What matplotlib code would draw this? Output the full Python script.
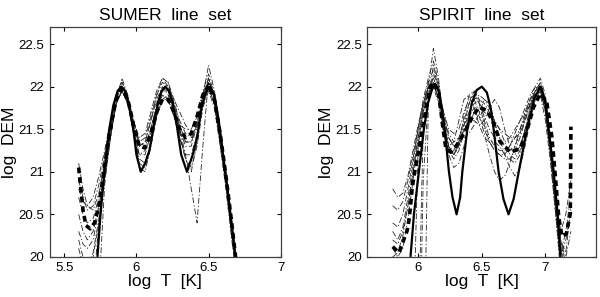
import matplotlib
matplotlib.use("Agg")
import matplotlib.pyplot as plt
import numpy as np

plt.rcParams['font.family'] = ['Liberation Sans', 'DejaVu Sans']

# ---------------- SUMER line set (left panel) ----------------
sumer_true_x = [5.73, 5.75, 5.78, 5.81, 5.84, 5.87, 5.895, 5.92, 5.95, 5.98, 6.00, 6.03,
                6.06, 6.09, 6.12, 6.15, 6.175, 6.20, 6.225, 6.25, 6.28, 6.31, 6.35,
                6.39, 6.42, 6.45, 6.48, 6.51, 6.54, 6.57, 6.60, 6.63, 6.66, 6.685]
sumer_true_y = [20.0, 20.47, 21.04, 21.48, 21.78, 21.95, 22.0, 21.95, 21.78, 21.48, 21.2, 21.0,
                21.1, 21.25, 21.54, 21.82, 21.95, 22.0, 21.95, 21.82, 21.54, 21.2, 21.0,
                21.2, 21.4, 21.74, 21.93, 22.0, 21.9, 21.6, 21.2, 20.8, 20.38, 20.0]

sumer_mean_x = [5.60, 5.615, 5.63, 5.65, 5.68, 5.71, 5.74, 5.77, 5.80, 5.83, 5.86, 5.90,
                5.94, 5.98, 6.02, 6.06, 6.10, 6.14, 6.18, 6.22, 6.26, 6.30, 6.34, 6.38,
                6.42, 6.46, 6.50, 6.54, 6.58, 6.62, 6.66, 6.70]
sumer_mean_y = [21.05, 20.8, 20.55, 20.37, 20.33, 20.4, 20.6, 20.95, 21.3, 21.6, 21.85, 21.98,
                21.85, 21.55, 21.3, 21.28, 21.45, 21.7, 21.85, 21.85, 21.7, 21.5, 21.4, 21.45,
                21.65, 21.9, 22.02, 21.85, 21.45, 20.95, 20.4, 19.8]

sumer_x = [5.60, 5.63, 5.66, 5.70, 5.74, 5.78, 5.82, 5.86, 5.90, 5.94, 5.98, 6.02, 6.06,
           6.10, 6.14, 6.18, 6.22, 6.26, 6.30, 6.34, 6.38, 6.42, 6.46, 6.50, 6.54, 6.58,
           6.62, 6.66, 6.70]
sumer_runs = [
    [21.1, 20.8, 20.6, 20.55, 20.75, 21.1, 21.5, 21.9, 22.05, 21.9, 21.55, 21.3, 21.35, 21.6, 21.9, 22.05, 22.0, 21.8, 21.5, 21.2, 20.8, 20.4, 21.3, 22.1, 21.9, 21.5, 21.0, 20.4, 19.8],
    [20.9, 20.7, 20.55, 20.6, 20.85, 21.2, 21.55, 21.9, 22.0, 21.85, 21.5, 21.2, 21.2, 21.45, 21.75, 21.95, 21.95, 21.75, 21.5, 21.3, 21.3, 21.55, 21.9, 22.1, 21.85, 21.4, 20.9, 20.35, 19.8],
    [20.7, 20.5, 20.4, 20.45, 20.7, 21.05, 21.45, 21.8, 21.95, 21.8, 21.45, 21.15, 21.1, 21.35, 21.65, 21.85, 21.85, 21.65, 21.45, 21.35, 21.35, 21.6, 21.9, 22.0, 21.8, 21.35, 20.85, 20.3, 19.8],
    [20.5, 20.3, 20.2, 20.3, 20.6, 21.0, 21.45, 21.85, 22.0, 21.85, 21.45, 21.05, 21.0, 21.3, 21.65, 21.95, 22.05, 21.85, 21.55, 21.35, 21.35, 21.55, 21.85, 22.05, 21.85, 21.4, 20.9, 20.35, 19.8],
    [20.3, 20.15, 20.1, 20.2, 20.55, 20.95, 21.4, 21.8, 21.95, 21.8, 21.5, 21.3, 21.35, 21.6, 21.85, 22.0, 21.9, 21.7, 21.55, 21.5, 21.5, 21.65, 21.95, 22.15, 21.9, 21.45, 20.95, 20.4, 19.8],
    [20.1, 19.9, 19.9, 20.05, 20.45, 20.9, 21.4, 21.85, 22.1, 21.9, 21.55, 21.35, 21.4, 21.65, 21.9, 22.1, 22.05, 21.8, 21.6, 21.45, 21.4, 21.55, 21.9, 22.25, 21.95, 21.5, 21.0, 20.45, 19.85],
    [20.0, 19.8, 19.5, 19.6, 20.4, 20.95, 21.45, 21.85, 22.0, 21.85, 21.5, 21.1, 21.05, 21.3, 21.65, 21.85, 21.9, 21.75, 21.45, 21.15, 21.05, 21.3, 21.75, 21.95, 21.75, 21.3, 20.8, 20.2, 19.7],
    [19.0, 19.0, 19.0, 19.0, 19.6, 20.85, 21.4, 21.8, 21.95, 21.8, 21.45, 21.2, 21.25, 21.5, 21.75, 21.9, 21.85, 21.65, 21.4, 21.2, 21.2, 21.45, 21.8, 21.98, 21.8, 21.4, 20.9, 20.3, 19.7],
    [20.2, 20.0, 19.9, 20.0, 20.4, 20.95, 21.45, 21.8, 21.95, 21.85, 21.6, 21.4, 21.45, 21.7, 21.95, 22.1, 22.0, 21.85, 21.7, 21.55, 21.45, 21.5, 21.8, 22.0, 21.8, 21.35, 20.85, 20.25, 19.7],
    [20.8, 20.65, 20.6, 20.7, 20.95, 21.25, 21.6, 21.9, 22.05, 21.9, 21.6, 21.35, 21.3, 21.5, 21.8, 22.0, 21.95, 21.7, 21.4, 21.15, 21.0, 21.35, 21.85, 22.1, 21.85, 21.4, 20.9, 20.35, 19.75],
]

# ---------------- SPIRIT line set (right panel) ----------------
spirit_true_x = [5.94, 5.967, 6.006, 6.045, 6.08, 6.11, 6.132, 6.16, 6.185, 6.208, 6.242, 6.27,
                 6.302, 6.33, 6.347, 6.386, 6.42, 6.46, 6.50, 6.54, 6.57, 6.593, 6.632, 6.67,
                 6.71, 6.75, 6.79, 6.855, 6.91, 6.96, 6.995, 7.025, 7.065, 7.096, 7.117]
spirit_true_y = [20.0, 20.5, 21.0, 21.5, 21.82, 21.97, 22.03, 21.95, 21.75, 21.5, 21.0, 20.7,
                 20.5, 20.7, 21.0, 21.5, 21.8, 21.96, 22.0, 21.93, 21.75, 21.5, 21.0, 20.68,
                 20.5, 20.68, 21.0, 21.5, 21.85, 22.0, 21.85, 21.5, 21.0, 20.5, 20.0]

spirit_mean_x = [5.80, 5.85, 5.914, 5.928, 5.94, 5.954, 5.98, 6.02, 6.045, 6.07, 6.098, 6.124,
                 6.163, 6.19, 6.216, 6.255, 6.294, 6.36, 6.425, 6.478, 6.54, 6.593, 6.645,
                 6.724, 6.80, 6.855, 6.907, 6.96, 7.012, 7.05, 7.078, 7.104, 7.13, 7.164,
                 7.195, 7.20]
spirit_mean_y = [20.12, 20.05, 20.31, 20.43, 20.59, 20.82, 21.06, 21.37, 21.6, 21.8, 22.0, 22.05,
                 21.92, 21.57, 21.29, 21.23, 21.29, 21.45, 21.64, 21.76, 21.72, 21.57, 21.35,
                 21.23, 21.27, 21.49, 21.76, 21.92, 21.8, 21.41, 20.94, 20.47, 20.24, 20.27,
                 20.51, 21.53]

spirit_x = [5.80, 5.84, 5.88, 5.92, 5.96, 6.00, 6.04, 6.08, 6.12, 6.16, 6.20, 6.24, 6.28,
            6.32, 6.36, 6.40, 6.44, 6.48, 6.52, 6.56, 6.60, 6.64, 6.68, 6.72, 6.76, 6.80,
            6.84, 6.88, 6.92, 6.96, 7.00, 7.04, 7.08, 7.12, 7.16, 7.20]
spirit_runs = [
    [20.8, 20.7, 20.75, 20.95, 21.25, 21.55, 21.8, 22.0, 22.1, 21.95, 21.7, 21.5, 21.45, 21.5, 21.7, 21.85, 21.9, 21.8, 21.65, 21.5, 21.4, 21.35, 21.35, 21.4, 21.5, 21.6, 21.7, 21.85, 21.95, 22.0, 21.8, 21.3, 20.7, 20.3, 20.5, 20.9],
    [20.6, 20.55, 20.65, 20.9, 21.2, 21.5, 21.8, 22.05, 22.2, 22.0, 21.6, 21.3, 21.2, 21.3, 21.55, 21.8, 21.95, 21.85, 21.6, 21.4, 21.3, 21.25, 21.25, 21.3, 21.4, 21.5, 21.65, 21.8, 21.9, 21.95, 21.7, 21.2, 20.6, 20.15, 20.0, 20.3],
    [20.2, 20.15, 20.3, 20.6, 21.0, 21.4, 21.75, 22.0, 22.45, 22.1, 21.6, 21.25, 21.15, 21.25, 21.45, 21.65, 21.75, 21.75, 21.7, 21.65, 21.6, 21.5, 21.35, 21.2, 21.15, 21.25, 21.5, 21.75, 21.95, 22.05, 21.85, 21.35, 20.7, 20.1, 19.8, 19.6],
    [18.0, 18.0, 18.0, 18.0, 18.0, 19.0, 21.5, 21.9, 22.0, 21.9, 21.55, 21.3, 21.25, 21.4, 21.6, 21.8, 21.85, 21.7, 21.5, 21.35, 21.25, 21.2, 21.2, 21.3, 21.45, 21.6, 21.75, 21.9, 22.0, 21.95, 21.7, 21.15, 20.5, 19.9, 19.5, 19.2],
    [18.0, 18.0, 18.0, 18.0, 18.0, 18.0, 18.0, 21.8, 22.15, 22.0, 21.7, 21.45, 21.35, 21.4, 21.55, 21.7, 21.8, 21.85, 21.8, 21.7, 21.55, 21.4, 21.3, 21.25, 21.3, 21.45, 21.65, 21.85, 22.0, 22.1, 21.9, 21.4, 20.75, 20.2, 19.9, 19.7],
    [18.0, 18.0, 18.0, 18.0, 19.0, 21.3, 21.7, 21.95, 22.05, 21.85, 21.5, 21.2, 21.05, 21.1, 21.3, 21.55, 21.7, 21.65, 21.45, 21.2, 21.0, 20.9, 20.95, 21.1, 21.3, 21.5, 21.7, 21.85, 21.9, 21.9, 21.6, 21.1, 20.5, 19.8, 19.5, 19.3],
    [20.4, 20.35, 20.5, 20.8, 21.15, 21.5, 21.8, 22.0, 22.05, 21.85, 21.5, 21.3, 21.35, 21.6, 21.85, 21.9, 21.75, 21.55, 21.4, 21.35, 21.35, 21.3, 21.2, 21.15, 21.1, 21.2, 21.45, 21.75, 21.95, 22.0, 21.75, 21.25, 20.6, 20.05, 20.3, 20.75],
    [20.0, 20.05, 20.25, 20.6, 21.0, 21.4, 21.75, 22.0, 22.1, 21.95, 21.65, 21.4, 21.3, 21.35, 21.4, 21.45, 21.55, 21.7, 21.85, 21.8, 21.6, 21.4, 21.2, 21.05, 20.95, 21.05, 21.3, 21.6, 21.85, 21.95, 21.75, 21.25, 20.6, 20.0, 19.7, 19.5],
    [20.3, 20.2, 20.35, 20.7, 21.1, 21.5, 21.85, 22.1, 22.3, 22.05, 21.65, 21.4, 21.3, 21.35, 21.5, 21.6, 21.6, 21.55, 21.6, 21.75, 21.85, 21.75, 21.5, 21.3, 21.2, 21.3, 21.5, 21.7, 21.9, 22.05, 21.85, 21.35, 20.75, 20.2, 20.05, 20.6],
    [18.0, 18.0, 18.0, 18.0, 18.0, 18.0, 20.9, 21.85, 22.25, 22.0, 21.6, 21.3, 21.2, 21.35, 21.65, 21.9, 21.95, 21.8, 21.55, 21.35, 21.25, 21.2, 21.15, 21.15, 21.25, 21.4, 21.6, 21.8, 21.95, 22.0, 21.8, 21.3, 20.65, 20.1, 19.8, 19.6],
    [20.1, 20.0, 20.1, 20.45, 20.9, 21.35, 21.7, 21.95, 22.0, 21.8, 21.45, 21.25, 21.2, 21.3, 21.5, 21.7, 21.85, 21.9, 21.85, 21.75, 21.6, 21.5, 21.45, 21.4, 21.4, 21.45, 21.6, 21.8, 21.95, 22.0, 21.7, 21.2, 20.55, 20.0, 20.2, 20.55],
]

yticks = [20, 20.5, 21, 21.5, 22, 22.5]
ytick_labels = ['20', '20.5', '21', '21.5', '22', '22.5']

fig = plt.figure(figsize=(6.0, 2.97), dpi=100)
ax1 = fig.add_axes([0.083, 0.135, 0.385, 0.774])
ax2 = fig.add_axes([0.612, 0.135, 0.382, 0.774])

panels = [
    (ax1, 'SUMER  line  set', sumer_x, sumer_runs, sumer_true_x, sumer_true_y,
     sumer_mean_x, sumer_mean_y, (5.4, 7.0), [5.5, 6, 6.5, 7], ['5.5', '6', '6.5', '7']),
    (ax2, 'SPIRIT  line  set', spirit_x, spirit_runs, spirit_true_x, spirit_true_y,
     spirit_mean_x, spirit_mean_y, (5.6, 7.4), [6, 6.5, 7], ['6', '6.5', '7']),
]

for ax, title, rx, runs, tx, ty, mx, my, xlim, xt, xtl in panels:
    for run in runs:
        ax.plot(rx, run, color='0.15', lw=0.6, linestyle=(0, (7, 2.5, 1.5, 2.5)))
    ax.plot(tx, ty, color='black', lw=1.6, solid_capstyle='butt')
    ax.plot(mx, my, color='black', lw=2.6, linestyle=(0, (1.6, 1.1)))
    ax.set_xlim(*xlim)
    ax.set_ylim(20, 22.7)
    ax.set_xticks(xt)
    ax.set_xticklabels(xtl)
    ax.set_yticks(yticks)
    ax.set_yticklabels(ytick_labels)
    ax.tick_params(direction='in', length=3, width=0.8, top=True, right=True,
                   labelsize=9.5, pad=4, colors='black')
    for s in ax.spines.values():
        s.set_linewidth(0.9)
        s.set_color('0.25')
    ax.set_title(title, fontsize=12.5, pad=5)
    ax.set_xlabel('log  T  [K]', fontsize=12.5, labelpad=0)
    ax.set_ylabel('log  DEM', fontsize=12.5, labelpad=1)

fig.savefig('out.png', dpi=100)
